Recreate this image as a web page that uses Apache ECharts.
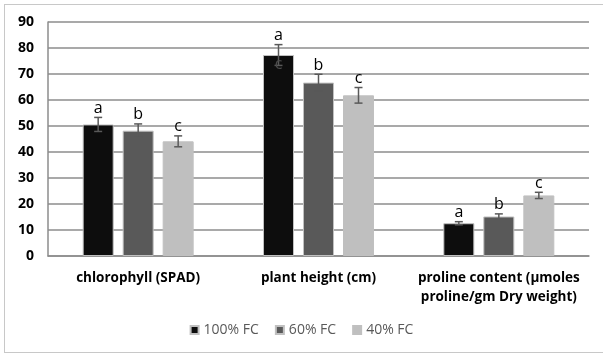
<!DOCTYPE html>
<html>
<head>
<meta charset="utf-8">
<script src="https://cdn.jsdelivr.net/npm/echarts@6/dist/echarts.min.js"></script>
<style>
  html, body { margin: 0; padding: 0; background: #fff; }
  #frame { position: absolute; left: 4px; top: 4px; width: 610px; height: 349px; border: 1px solid #c8c8c8; box-sizing: border-box; }
  #chart { position: absolute; left: 0; top: 0; width: 603px; height: 355px; }
</style>
</head>
<body>
<div id="frame"></div>
<div id="chart"></div>
<script>
const categories = ["chlorophyll (SPAD)", "plant height (cm)", "proline content (µmoles\nproline/gm Dry weight)"];
const seriesNames = ["100% FC", "60% FC", "40% FC"];
const colors = ["#0d0d0d", "#595959", "#bfbfbf"];

const fc100 = [50.6, 77.3, 12.6];
const fc60 = [48.2, 66.7, 15.2];
const fc40 = [44.1, 61.8, 23.3];

const err100 = [2.7, 4.0, 0.6];
const err60 = [2.6, 3.2, 1.0];
const err40 = [2.1, 3.0, 1.2];

const letters100 = ["a", "a", "a"];
const letters60 = ["b", "b", "b"];
const letters40 = ["c", "c", "c"];

// stray letter that sits inside the plant height 100% bar
const strayLetter = [[1, 73.5, "c"]];

const yTicks = { min: 0, max: 90, interval: 10 };

const values = [fc100, fc60, fc40];
const errors = [err100, err60, err40];
const letters = [letters100, letters60, letters40];

const barWidth = 31;
const barStep = 40;
const fontFamily = "'Open Sans', 'Noto Sans', sans-serif";

const chart = echarts.init(document.getElementById("chart"));

const barSeries = seriesNames.map((name, i) => ({
    name: name,
    type: "bar",
    data: values[i],
    barWidth: barWidth,
    barGap: "29%",
    itemStyle: {
        color: colors[i],
        borderColor: "#c0c0c0",
        borderWidth: 1,
    },
}));

const errorSeries = seriesNames.map((name, i) => ({
    type: "custom",
    name: name + " err",
    silent: true,
    z: 5,
    data: values[i].map((v, k) => [k, v, errors[i][k]]),
    renderItem: (params, api) => {
        const k = api.value(0);
        const v = api.value(1);
        const e = api.value(2);
        const dx = (i - 1) * barStep;
        const top = api.coord([k, v + e]);
        const bot = api.coord([k, v - e]);
        const x = top[0] + dx;
        const style = { stroke: "#595959", lineWidth: 1.5 };
        return {
            type: "group",
            children: [
                { type: "line", shape: { x1: x, y1: top[1], x2: x, y2: bot[1] }, style: style },
                { type: "line", shape: { x1: x - 4, y1: top[1], x2: x + 4, y2: top[1] }, style: style },
                { type: "line", shape: { x1: x - 4, y1: bot[1], x2: x + 4, y2: bot[1] }, style: style },
                {
                    type: "text",
                    style: {
                        text: letters[i][k],
                        x: x,
                        y: top[1] - 1,
                        align: "center",
                        verticalAlign: "bottom",
                        font: "16px " + fontFamily,
                        fill: "#000",
                    },
                },
            ],
        };
    },
}));

const straySeries = {
    type: "custom",
    silent: true,
    z: 6,
    data: strayLetter.map((d) => [d[0], d[1]]),
    renderItem: (params, api) => {
        const p = api.coord([api.value(0), api.value(1)]);
        return {
            type: "text",
            style: {
                text: strayLetter[params.dataIndex][2],
                x: p[0] - barStep,
                y: p[1],
                align: "center",
                verticalAlign: "middle",
                font: "16px " + fontFamily,
                fill: "#4a4a4a",
            },
        };
    },
};

const option = {
    animation: false,
    color: colors,
    grid: { left: 48, right: 14, top: 22, bottom: 99 },
    legend: {
        data: seriesNames,
        bottom: 13,
        left: "center",
        itemWidth: 8,
        itemHeight: 8,
        itemGap: 16,
        icon: "rect",
        textStyle: { fontSize: 14, color: "#595959", fontFamily: fontFamily },
    },
    xAxis: {
        type: "category",
        data: categories,
        axisLine: { lineStyle: { color: "#8c8c8c", width: 1.5 } },
        axisTick: { show: false },
        axisLabel: {
            interval: 0,
            margin: 13,
            fontSize: 13.5,
            fontWeight: "bold",
            color: "#000",
            fontFamily: fontFamily,
            lineHeight: 19,
        },
    },
    yAxis: {
        type: "value",
        min: yTicks.min,
        max: yTicks.max,
        interval: yTicks.interval,
        axisLine: { show: true, lineStyle: { color: "#8c8c8c", width: 1.5 } },
        axisTick: { show: false },
        splitLine: { lineStyle: { color: "#8c8c8c", width: 1.5 } },
        axisLabel: {
            margin: 14,
            fontSize: 14,
            fontWeight: "bold",
            color: "#000",
            fontFamily: fontFamily,
        },
    },
    series: [...barSeries, ...errorSeries, straySeries],
};

chart.setOption(option);
</script>
</body>
</html>
